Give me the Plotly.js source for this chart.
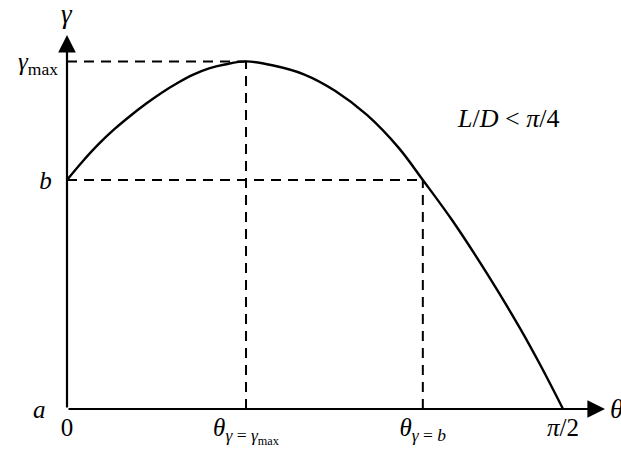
<!DOCTYPE html>
<html>
<head>
<meta charset="utf-8">
<script src="https://cdn.plot.ly/plotly-3.0.1.min.js"></script>
<style>
  html, body { margin: 0; padding: 0; background: #fff; }
  #chart { width: 621px; height: 453px; }
</style>
</head>
<body>
<div id="chart"></div>
<script>
// -- Data (theta in radians, gamma scaled so gamma_max = 1)
var thetaVals = [0, 0.05, 0.10, 0.15, 0.20, 0.25, 0.30, 0.35, 0.40, 0.45, 0.50, 0.567,
                 0.65, 0.75, 0.85, 0.95, 1.05, 1.127, 1.22, 1.33, 1.435, 1.50, 1.571];
var gammaVals = [0.659, 0.713, 0.762, 0.805, 0.843, 0.878, 0.910, 0.938, 0.962, 0.980, 0.991, 1.0,
                 0.989, 0.963, 0.915, 0.846, 0.752, 0.659, 0.543, 0.390, 0.232, 0.125, 0.0];

var THETA_PEAK = 0.567;   // theta at gamma = gamma_max
var THETA_B    = 1.127;   // theta at gamma = b
var GAMMA_MAX  = 1.0;
var GAMMA_B    = 0.659;

var xTickVals = [0, THETA_PEAK, THETA_B, Math.PI / 2];
var xTickText = ['0',
  '<i>θ</i><sub><i>γ</i> = <i>γ</i><sub>max</sub></sub>',
  '<i>θ</i><sub><i>γ</i> = <i>b</i></sub>',
  '<i>π</i>/2'];
var yTickVals = [0, GAMMA_B, GAMMA_MAX];
var yTickText = ['<i>a</i>&nbsp;&nbsp;', '<i>b</i>&nbsp;', '<i>γ</i><sub>max</sub>'];

var X_MAX = 1.704;
var Y_MAX = 1.076;

var SERIF = 'Liberation Serif';
var INK = '#000000';

var curve = {
  type: 'scatter',
  mode: 'lines',
  x: thetaVals,
  y: gammaVals,
  line: { color: INK, width: 2.4, shape: 'spline', smoothing: 1 },
  hoverinfo: 'skip'
};

function dashed(x0, y0, x1, y1) {
  return {
    type: 'line', xref: 'x', yref: 'y',
    x0: x0, y0: y0, x1: x1, y1: y1,
    line: { color: INK, width: 2, dash: '10px,7px' }
  };
}

function axisArrow(x, y) {
  return {
    x: x, y: y, ax: 0, ay: 0, xref: 'x', yref: 'y', axref: 'x', ayref: 'y',
    text: '', showarrow: true, arrowhead: 2, arrowsize: 1.6, arrowwidth: 2.2, arrowcolor: INK
  };
}

var layout = {
  width: 621,
  height: 453,
  paper_bgcolor: '#ffffff',
  plot_bgcolor: '#ffffff',
  margin: { l: 67, r: 16, t: 35, b: 44 },
  showlegend: false,
  font: { family: SERIF, color: INK, size: 25 },
  xaxis: {
    range: [0, X_MAX],
    showgrid: false, zeroline: false, showline: false,
    ticks: '',
    tickvals: xTickVals,
    ticktext: xTickText,
    tickfont: { family: SERIF, size: 25, color: INK },
    ticklabelstandoff: 1
  },
  yaxis: {
    range: [0, Y_MAX],
    showgrid: false, zeroline: false, showline: false,
    ticks: '',
    tickvals: yTickVals,
    ticktext: yTickText,
    tickfont: { family: SERIF, size: 25, color: INK },
    ticklabelstandoff: 8
  },
  shapes: [
    dashed(0, GAMMA_MAX, THETA_PEAK, GAMMA_MAX),
    dashed(THETA_PEAK, 0, THETA_PEAK, GAMMA_MAX),
    dashed(0, GAMMA_B, THETA_B, GAMMA_B),
    dashed(THETA_B, 0, THETA_B, GAMMA_B)
  ],
  annotations: [
    axisArrow(X_MAX, 0),
    axisArrow(0, Y_MAX),
    // axis names
    { x: 0, y: 1, xref: 'x', yref: 'paper', yshift: 4, xanchor: 'center', yanchor: 'bottom',
      text: '<i>γ</i>', showarrow: false, font: { family: SERIF, size: 27, color: INK } },
    { x: 1, y: 0, xref: 'paper', yref: 'y', xshift: 3, xanchor: 'left', yanchor: 'middle',
      text: '<i>θ</i>', showarrow: false, font: { family: SERIF, size: 27, color: INK } },
    // condition label
    { x: 1.397, y: 0.837, xref: 'x', yref: 'y', xanchor: 'center', yanchor: 'middle',
      text: '<i>L</i>/<i>D</i> &lt; <i>π</i>/4', showarrow: false,
      font: { family: SERIF, size: 26, color: INK } }
  ]
};

Plotly.newPlot('chart', [curve], layout, { displayModeBar: false, staticPlot: true });
</script>
</body>
</html>
